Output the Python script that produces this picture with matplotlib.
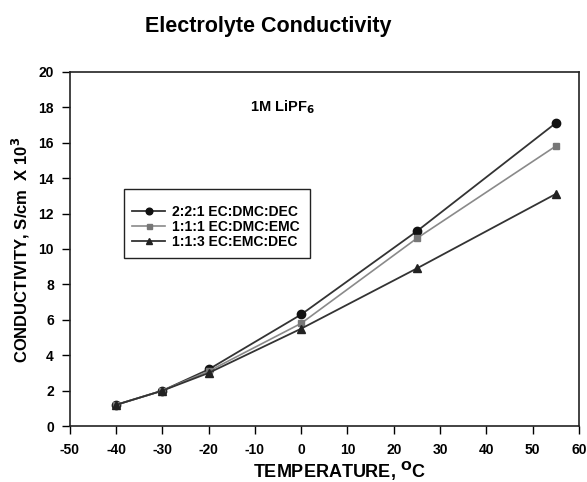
import matplotlib.pyplot as plt
from matplotlib.patches import Rectangle

plt.rcParams["font.family"] = ["Liberation Sans", "DejaVu Sans"]
plt.rcParams["axes.unicode_minus"] = False

temps = [-40, -30, -20, 0, 25, 55]
ec_dmc_dec = [1.2, 2.0, 3.2, 6.3, 11.0, 17.1]
ec_dmc_emc = [1.2, 2.0, 3.1, 5.8, 10.6, 15.8]
ec_emc_dec = [1.2, 2.0, 3.0, 5.5, 8.9, 13.1]
labels = ["2:2:1 EC:DMC:DEC", "1:1:1 EC:DMC:EMC", "1:1:3 EC:EMC:DEC"]

fig = plt.figure(figsize=(5.87, 4.82), dpi=100)
ax = fig.add_axes([0.119, 0.116, 0.867, 0.735])

ax.plot(temps, ec_dmc_dec, color="#333333", lw=1.3, marker="o", ms=6,
        mfc="#111111", mec="#111111", label=labels[0])
ax.plot(temps, ec_dmc_emc, color="#8a8a8a", lw=1.2, marker="s", ms=4.5,
        mfc="#777777", mec="#777777", label=labels[1])
ax.plot(temps, ec_emc_dec, color="#333333", lw=1.3, marker="^", ms=5.5,
        mfc="#222222", mec="#222222", label=labels[2])

ax.set_xlim(-50, 60)
ax.set_ylim(0, 20)
ax.set_xticks(range(-50, 61, 10))
ax.set_yticks(range(0, 21, 2))
ax.tick_params(direction="out", length=5.5, width=1, labelsize=10)
ax.tick_params(axis="x", pad=7)
ax.tick_params(axis="y", pad=6)
for lab in ax.get_xticklabels() + ax.get_yticklabels():
    lab.set_fontweight("bold")
for sp in ax.spines.values():
    sp.set_linewidth(1.2)
    sp.set_color("#222222")

fig.text(0.579, 0.021, "TEMPERATURE, $\\mathbf{^{O}}$C", fontsize=13,
         fontweight="bold", ha="center", va="center")
fig.text(0.036, 0.481, "CONDUCTIVITY, S/cm  X 10$\\mathbf{^{3}}$", fontsize=12,
         fontweight="bold", ha="center", va="center", rotation=90)
fig.text(0.457, 0.934, "Electrolyte Conductivity", fontsize=15.5,
         fontweight="bold", ha="center", va="baseline")
ax.text(-4, 18, "1M LiPF$\\mathbf{_{6}}$", fontsize=10.5, fontweight="bold",
        ha="center", va="center")

# legend frame is taller than the entries, so draw it on its own
ax.add_patch(Rectangle((0.106, 0.4746), 0.3655, 0.195, transform=ax.transAxes,
                       fill=False, edgecolor="#222222", linewidth=1.0, zorder=3))
ax.legend(loc="center left", bbox_to_anchor=(0.122, 0.562), frameon=False,
          prop={"weight": "bold", "size": 10}, handlelength=2.4, borderpad=0,
          borderaxespad=0, labelspacing=0.05, handletextpad=0.5, markerscale=0.8)

fig.savefig("out.png", dpi=100)
